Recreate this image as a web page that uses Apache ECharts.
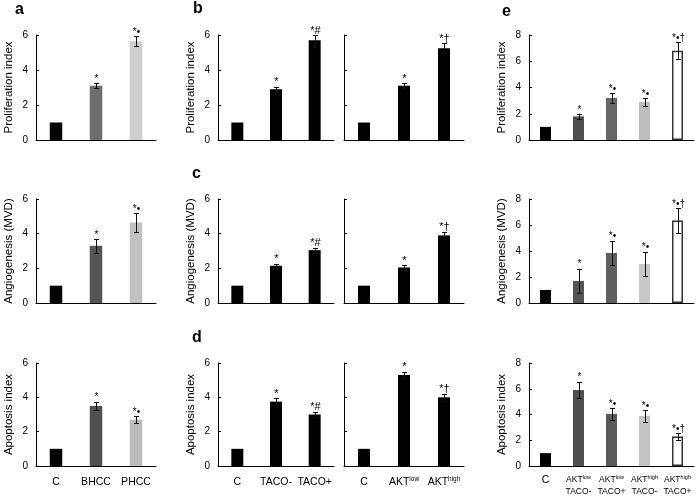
<!DOCTYPE html>
<html>
<head>
<meta charset="utf-8">
<script src="https://cdn.jsdelivr.net/npm/echarts@6/dist/echarts.min.js"></script>
<style>html,body{margin:0;padding:0;background:#fff}#chart{width:700px;height:500px}</style>
</head>
<body>
<div id="chart"></div>
<script>
// ---------- DATA ----------
const rowNames = ['Proliferation index', 'Angiogenesis (MVD)', 'Apoptosis index'];

// panel a
const catsA = ['C', 'BHCC', 'PHCC'];
const aProlif = [1, 3.1, 5.65];
const aProlifErr = [0, 0.15, 0.3];
const aProlifSig = ['', '*', '*•'];
const aAngio = [1, 3.3, 4.65];
const aAngioErr = [0, 0.4, 0.55];
const aAngioSig = ['', '*', '*•'];
const aApop = [1, 3.5, 2.7];
const aApopErr = [0, 0.25, 0.2];
const aApopSig = ['', '*', '*•'];

// panels b/c/d left (TACO)
const catsTaco = ['C', 'TACO-', 'TACO+'];
const tacoProlif = [1, 2.9, 5.7];
const tacoProlifErr = [0, 0.15, 0.3];
const tacoProlifSig = ['', '*', '*#'];
const tacoAngio = [1, 2.15, 3.05];
const tacoAngioErr = [0, 0.12, 0.15];
const tacoAngioSig = ['', '*', '*#'];
const tacoApop = [1, 3.75, 3.0];
const tacoApopErr = [0, 0.2, 0.15];
const tacoApopSig = ['', '*', '*#'];

// panels b/c/d right (AKT)
const catsAkt = ['C', 'AKT^low', 'AKT^high'];
const aktProlif = [1, 3.1, 5.25];
const aktProlifErr = [0, 0.15, 0.28];
const aktProlifSig = ['', '*', '*†'];
const aktAngio = [1, 2.05, 3.9];
const aktAngioErr = [0, 0.12, 0.2];
const aktAngioSig = ['', '*', '*†'];
const aktApop = [1, 5.3, 4.0];
const aktApopErr = [0, 0.2, 0.2];
const aktApopSig = ['', '*', '*†'];

// panel e
const catsE = ['C', 'AKT^low\nTACO-', 'AKT^low\nTACO+', 'AKT^high\nTACO-', 'AKT^high\nTACO+'];
const eProlif = [1, 1.8, 3.2, 2.9, 6.8];
const eProlifErr = [0, 0.2, 0.35, 0.3, 0.65];
const eProlifSig = ['', '*', '*•', '*•', '*•†'];
const eAngio = [1, 1.7, 3.85, 3.0, 6.35];
const eAngioErr = [0, 0.95, 0.95, 0.95, 0.95];
const eAngioSig = ['', '*', '*•', '*•', '*•†'];
const eApop = [1, 5.9, 4.05, 3.9, 2.3];
const eApopErr = [0, 0.65, 0.45, 0.45, 0.25];
const eApopSig = ['', '*', '*•', '*•', '*•†'];

// y-axis scales
const yMax6 = 6, yMax8 = 8, yStep = 2;

// ---------- STYLE / LAYOUT ----------
const FONT = 'Liberation Sans, Arial, Helvetica, sans-serif';
const colLeft = [36, 218, 344, 529];
const colWidth = [120, 116, 120, 165];
const rowTop = [35, 199, 363];
const rowHeight = [105, 104, 103];
const colBarWidth = [12.5, 12, 12, 11];
const colSigFont = [10, 11, 11, 10];
const colorsA = [['#000', '#6e6e6e', '#cfcfcf'], ['#000', '#555', '#c2c2c2'], ['#000', '#505050', '#bbb']];
const colorsE = [['#000', '#505050', '#666', '#bdbdbd', '#fff'],
                 ['#000', '#555', '#5f5f5f', '#c8c8c8', '#fff'],
                 ['#000', '#505050', '#5a5a5a', '#c4c4c4', '#fff']];
const black3 = ['#000', '#000', '#000'];

const panels = [
  // row 0
  {col: 0, row: 0, cats: catsA, vals: aProlif, errs: aProlifErr, sigs: aProlifSig, colors: colorsA[0], max: yMax6},
  {col: 1, row: 0, cats: catsTaco, vals: tacoProlif, errs: tacoProlifErr, sigs: tacoProlifSig, colors: black3, max: yMax6},
  {col: 2, row: 0, cats: catsAkt, vals: aktProlif, errs: aktProlifErr, sigs: aktProlifSig, colors: black3, max: yMax6},
  {col: 3, row: 0, cats: catsE, vals: eProlif, errs: eProlifErr, sigs: eProlifSig, colors: colorsE[0], max: yMax8},
  // row 1
  {col: 0, row: 1, cats: catsA, vals: aAngio, errs: aAngioErr, sigs: aAngioSig, colors: colorsA[1], max: yMax6},
  {col: 1, row: 1, cats: catsTaco, vals: tacoAngio, errs: tacoAngioErr, sigs: tacoAngioSig, colors: black3, max: yMax6},
  {col: 2, row: 1, cats: catsAkt, vals: aktAngio, errs: aktAngioErr, sigs: aktAngioSig, colors: black3, max: yMax6},
  {col: 3, row: 1, cats: catsE, vals: eAngio, errs: eAngioErr, sigs: eAngioSig, colors: colorsE[1], max: yMax8},
  // row 2
  {col: 0, row: 2, cats: catsA, vals: aApop, errs: aApopErr, sigs: aApopSig, colors: colorsA[2], max: yMax6},
  {col: 1, row: 2, cats: catsTaco, vals: tacoApop, errs: tacoApopErr, sigs: tacoApopSig, colors: black3, max: yMax6},
  {col: 2, row: 2, cats: catsAkt, vals: aktApop, errs: aktApopErr, sigs: aktApopSig, colors: black3, max: yMax6},
  {col: 3, row: 2, cats: catsE, vals: eApop, errs: eApopErr, sigs: eApopSig, colors: colorsE[2], max: yMax8}
];

function labelFormatter(col) {
  return function (v) {
    if (col === 3 && v === 'C') return '{big|C}';
    return v.replace(/\^(\w+)/g, '{sup|$1}');
  };
}

function makeErr(errs, sigs, sigFont) {
  return function (params, api) {
    const i = params.dataIndex;
    const x = api.value(0), v = api.value(1), e = errs[i];
    const pTop = api.coord([x, v + e]);
    const pBot = api.coord([x, v - e]);
    const cx = Math.round(pTop[0]) + 0.5;
    const children = [];
    if (e > 0) {
      const yt = Math.round(pTop[1]) + 0.5, yb = Math.round(pBot[1]) + 0.5;
      const st = {stroke: '#111', lineWidth: 1};
      children.push({type: 'line', shape: {x1: cx, y1: yt, x2: cx, y2: yb}, style: st});
      children.push({type: 'line', shape: {x1: cx - 2.5, y1: yt, x2: cx + 2.5, y2: yt}, style: st});
      children.push({type: 'line', shape: {x1: cx - 2.5, y1: yb, x2: cx + 2.5, y2: yb}, style: st});
    }
    if (sigs[i]) {
      children.push({type: 'text', style: {
        text: sigs[i], x: cx, y: pTop[1] + 1, align: 'center', verticalAlign: 'bottom',
        fontSize: sigFont, fontFamily: FONT, fill: '#000'
      }});
    }
    return {type: 'group', children: children};
  };
}

const grid = [], xAxis = [], yAxis = [], series = [];
panels.forEach(function (p, g) {
  grid.push({left: colLeft[p.col], top: rowTop[p.row], width: colWidth[p.col], height: rowHeight[p.row], containLabel: false});
  const isE = p.col === 3;
  xAxis.push({
    gridIndex: g, type: 'category', data: p.cats,
    axisLine: {show: true, lineStyle: {color: '#000', width: 1}},
    axisTick: {show: false},
    axisLabel: {
      show: p.row === 2, color: '#000', fontFamily: FONT,
      fontSize: isE ? 8.5 : 10.5, margin: isE ? 8 : 10, lineHeight: isE ? 11.5 : 13,
      interval: 0, formatter: labelFormatter(p.col),
      rich: {
        big: {fontSize: 10.5, fontFamily: FONT, color: '#000', lineHeight: 11.5},
        sup: {fontSize: isE ? 5.5 : 6.5, fontFamily: FONT, color: '#000', verticalAlign: 'top', lineHeight: isE ? 11.5 : 13}
      }
    },
    splitLine: {show: false}
  });
  const showY = p.col !== 2;
  yAxis.push({
    gridIndex: g, type: 'value', min: 0, max: p.max, interval: yStep,
    axisLine: {show: true, lineStyle: {color: '#000', width: 1}},
    axisTick: {show: true, inside: true, length: 3, lineStyle: {color: '#000'}},
    axisLabel: {show: showY, color: '#000', fontFamily: FONT, fontSize: 10, margin: 8},
    splitLine: {show: false},
    name: showY ? rowNames[p.row] : '',
    nameLocation: 'middle', nameGap: 21,
    nameTextStyle: {color: '#000', fontFamily: FONT, fontSize: 11.5}
  });
  series.push({
    type: 'bar', xAxisIndex: g, yAxisIndex: g, barWidth: colBarWidth[p.col],
    data: p.vals.map(function (v, i) {
      const c = p.colors[i];
      return {value: v, itemStyle: c === '#fff' ? {color: '#fff', borderColor: '#333', borderWidth: 1.5} : {color: c}};
    }),
    silent: true
  });
  series.push({
    type: 'custom', xAxisIndex: g, yAxisIndex: g, z: 5,
    data: p.vals.map(function (v, i) { return [i, v]; }),
    renderItem: makeErr(p.errs, p.sigs, colSigFont[p.col]), silent: true
  });
});

const letterFont = 'bold 16px ' + FONT;
const letters = [
  {t: 'a', x: 15, y: 2}, {t: 'b', x: 193, y: 1}, {t: 'e', x: 502, y: 4},
  {t: 'c', x: 192, y: 166}, {t: 'd', x: 192, y: 330}
];

const chart = echarts.init(document.getElementById('chart'), null, {renderer: 'canvas'});
chart.setOption({
  backgroundColor: '#fff',
  animation: false,
  grid: grid, xAxis: xAxis, yAxis: yAxis, series: series,
  graphic: letters.map(function (l) {
    return {type: 'text', left: l.x, top: l.y, style: {text: l.t, font: letterFont, fill: '#000'}};
  })
});
</script>
</body>
</html>
